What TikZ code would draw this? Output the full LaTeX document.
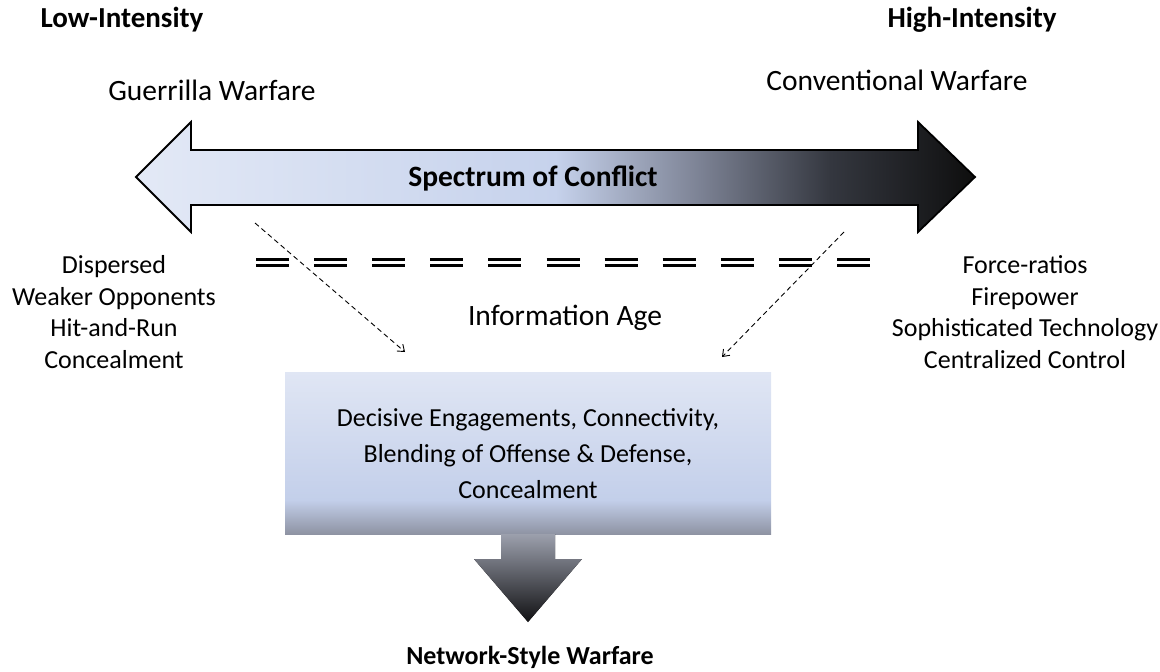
\documentclass[tikz,border=0pt]{standalone}
\usepackage{fontspec}
\setmainfont{Carlito}
\usepackage{tikz}
\usetikzlibrary{arrows.meta}

\definecolor{palebluefill}{HTML}{E3E9F6}
\definecolor{midbluefill}{HTML}{C6D2EC}
\definecolor{slatefill}{HTML}{7C8294}
\definecolor{darkslatefill}{HTML}{34373F}
\definecolor{nearblack}{HTML}{0E0E0E}
\definecolor{boxtop}{HTML}{E0E6F4}
\definecolor{boxmid}{HTML}{C3CFEA}
\definecolor{boxbottom}{HTML}{8E93A3}
\definecolor{arrowtop}{HTML}{9CA0AD}
\definecolor{arrowbottom}{HTML}{111113}

\pgfdeclarehorizontalshading{spectrumfade}{100bp}{color(0bp)=(palebluefill); color(25bp)=(palebluefill);
  color(50bp)=(midbluefill); color(58.6bp)=(slatefill); color(66.4bp)=(darkslatefill);
  color(75bp)=(nearblack); color(100bp)=(nearblack)}
\pgfdeclareverticalshading{boxfade}{100bp}{color(0bp)=(boxbottom); color(25bp)=(boxbottom);
  color(35.5bp)=(boxmid); color(75bp)=(boxtop); color(100bp)=(boxtop)}

\tikzset{
  label/.style={font=\fontsize{26}{31.5}\selectfont, inner sep=0pt},
  biglabel/.style={label, font=\fontsize{29.5}{36}\selectfont},
  heading/.style={label, font=\fontsize{29}{36}\selectfont\bfseries},
  traits/.style={label, align=center},
  pointer/.style={dash pattern=on 5pt off 3.5pt, line width=0.9pt,
    -{Straight Barb[length=6pt,width=9pt]}},
  ageline/.style={line width=2.2pt, dash pattern=on 33pt off 25.1pt}
}

\begin{document}
\begin{tikzpicture}[x=1pt, y=-1pt]
  \useasboundingbox (0,0) rectangle (1160,672);
  %% spectrum arrow
  \draw [line width=1.8pt, shading=spectrumfade, line join=miter]
    (136,177) -- (191,122) -- (191,150) -- (918,150) -- (918,122) -- (975,177)
    -- (918,232) -- (918,205) -- (191,205) -- (191,232) -- cycle;
  \node [heading, font=\fontsize{29.5}{36}\selectfont\bfseries] (spectrum) at (533,178) {Spectrum of Conflict};
  %% ends of the spectrum
  \node [heading] (low) at (122,20) {Low-Intensity};
  \node [heading] (high) at (972,20) {High-Intensity};
  \node [biglabel] (guerrilla) at (212,90) {Guerrilla Warfare};
  \node [biglabel] (conventional) at (897,80) {Conventional Warfare};
  \node [traits] (lowtraits) at (114,312) {Dispersed\\Weaker Opponents\\Hit-and-Run\\Concealment};
  \node [traits] (hightraits) at (1025,312) {Force-ratios\\Firepower\\Sophisticated Technology\\Centralized Control};
  %% information age
  \draw [ageline] (256,259.5) -- (870,259.5);
  \draw [ageline] (256,265.5) -- (870,265.5);
  \node [biglabel] (infoage) at (565,318) {Information Age};
  %% network box and arrow
  \fill [shading=boxfade] (285,372) rectangle (771,534);
  \node [traits, font=\fontsize{26}{36}\selectfont] (netbox) at (528,454)
    {Decisive Engagements, Connectivity,\\Blending of Offense \& Defense,\\Concealment};
  \fill [top color=arrowtop, bottom color=arrowbottom]
    (501,534) -- (555,534) -- (555,559) -- (582,559) -- (528,622) -- (474,559) -- (501,559) -- cycle;
  \node [heading, font=\fontsize{26}{31.5}\selectfont\bfseries] (network) at (530,657) {Network-Style Warfare};
  %% pointers
  \coordinate (lstart) at (255,223);
  \coordinate (lend) at (405,352);
  \coordinate (rstart) at (844,232);
  \coordinate (rend) at (722,357);
  \draw [pointer] (lstart) -- (lend);
  \draw [pointer] (rstart) -- (rend);
\end{tikzpicture}
\end{document}
